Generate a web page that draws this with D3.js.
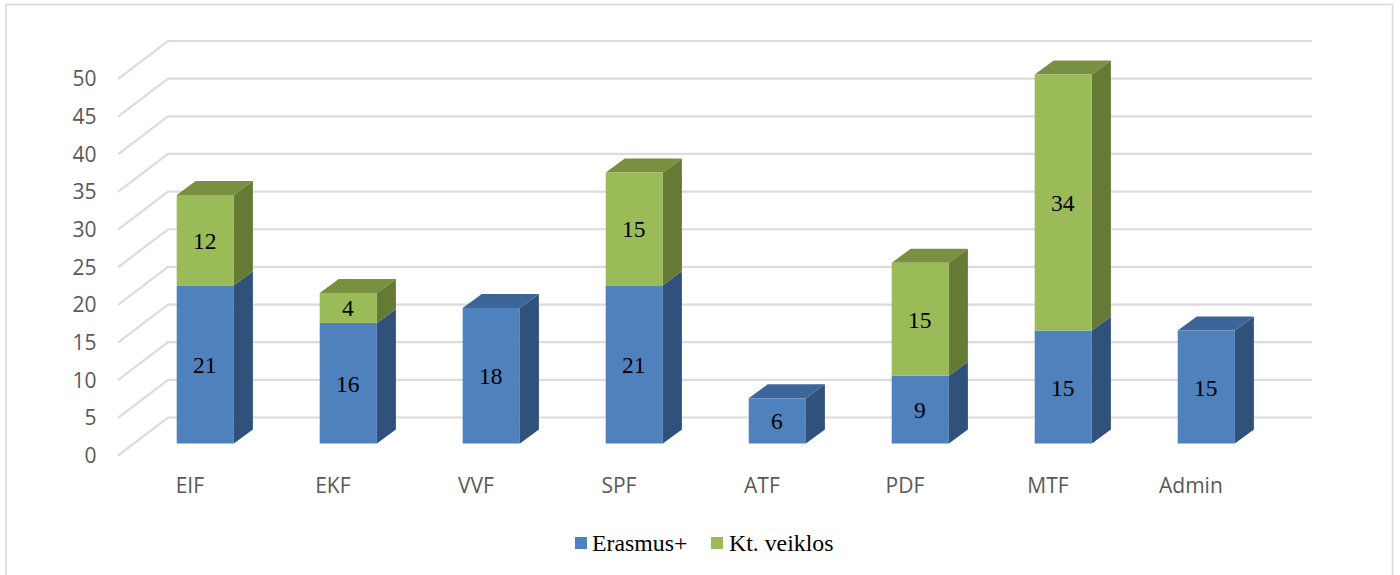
<!DOCTYPE html>
<html><head><meta charset="utf-8">
<script src="https://cdn.jsdelivr.net/npm/d3@7"></script>
<style>html,body{margin:0;padding:0;background:#fff}svg{display:block}</style>
</head><body><div id="c"></div>
<script>
const categories = ["EIF","EKF","VVF","SPF","ATF","PDF","MTF","Admin"];
const erasmus = [21,16,18,21,6,9,15,15];
const veiklos = [12,4,0,15,0,15,34,0];
const yTicks = [0,5,10,15,20,25,30,35,40,45,50];
const seriesNames = ["Erasmus+","Kt. veiklos"];

const W=1400,H=575;
const svg=d3.select("#c").append("svg").attr("width",W).attr("height",H);
const sans="'Open Sans',sans-serif", serif="'Liberation Serif',serif";
svg.append("rect").attr("x",6).attr("y",4.5).attr("width",1386.5).attr("height",580)
  .attr("fill","#fff").attr("stroke","#d9d9d9").attr("stroke-width",1.6);

const x=d3.scaleBand().domain(categories).range([118,1262]).paddingInner(0.6).paddingOuter(0.3);
const y=d3.scaleLinear().domain([0,50]).range([455.5,79]);
const depthX=50, depthY=38;
const barDX=15.8, barDY=12, bx=19, by=14;

const grid=svg.append("g").attr("fill","none").attr("stroke","#dcdcdc").attr("stroke-width",2.2);
yTicks.forEach(t=>{
  grid.append("path").attr("d",`M118,${y(t)}L${118+depthX},${y(t)-depthY}H1312`);
});
svg.append("g").selectAll("text").data(yTicks).join("text")
  .attr("x",96.5).attr("y",d=>y(d)+7.4).attr("text-anchor","end")
  .attr("font-family",sans).attr("font-size",21).attr("fill","#595959").text(d=>d);
svg.append("g").selectAll("text").data(categories).join("text")
  .attr("x",d=>x(d)+29).attr("y",492.5).attr("text-anchor","middle")
  .attr("font-family",sans).attr("font-size",21).attr("fill","#595959").text(d=>d);

const colors=[{f:"#4f81bd",s:"#30527a",t:"#3c659a"},{f:"#9bbb59",s:"#647a35",t:"#789040"}];
const g=svg.append("g");
function seg(cat,v0,v1,c,label,isTop){
  const X=x(cat)+barDX, w=x.bandwidth();
  const top=y(v1)-barDY, bot=y(v0)-barDY;
  g.append("path").attr("fill",c.s).attr("d",`M${X+w},${top}l${bx},${-by}V${bot-by}L${X+w},${bot}Z`);
  if(isTop) g.append("path").attr("fill",c.t).attr("d",`M${X},${top}l${bx},${-by}h${w}l${-bx},${by}Z`);
  g.append("rect").attr("x",X).attr("y",top).attr("width",w).attr("height",bot-top).attr("fill",c.f);
  g.append("text").attr("x",X+w/2-0.5).attr("y",(top+bot)/2+8.5).attr("text-anchor","middle")
    .attr("font-family",serif).attr("font-size",23.5).attr("fill","#000").text(label);
}
categories.forEach((cat,i)=>{
  const a=erasmus[i], b=veiklos[i];
  seg(cat,0,a,colors[0],a,b===0);
  if(b>0) seg(cat,a,a+b,colors[1],b,true);
});

const leg=svg.append("g");
[[575,592,0],[711,729,1]].forEach(([sx,tx,i])=>{
  leg.append("rect").attr("x",sx).attr("y",537).attr("width",12).attr("height",12).attr("fill",colors[i].f);
  leg.append("text").attr("x",tx).attr("y",550.5).attr("font-family",serif).attr("font-size",23.8).attr("fill","#000").text(seriesNames[i]);
});
</script></body></html>
